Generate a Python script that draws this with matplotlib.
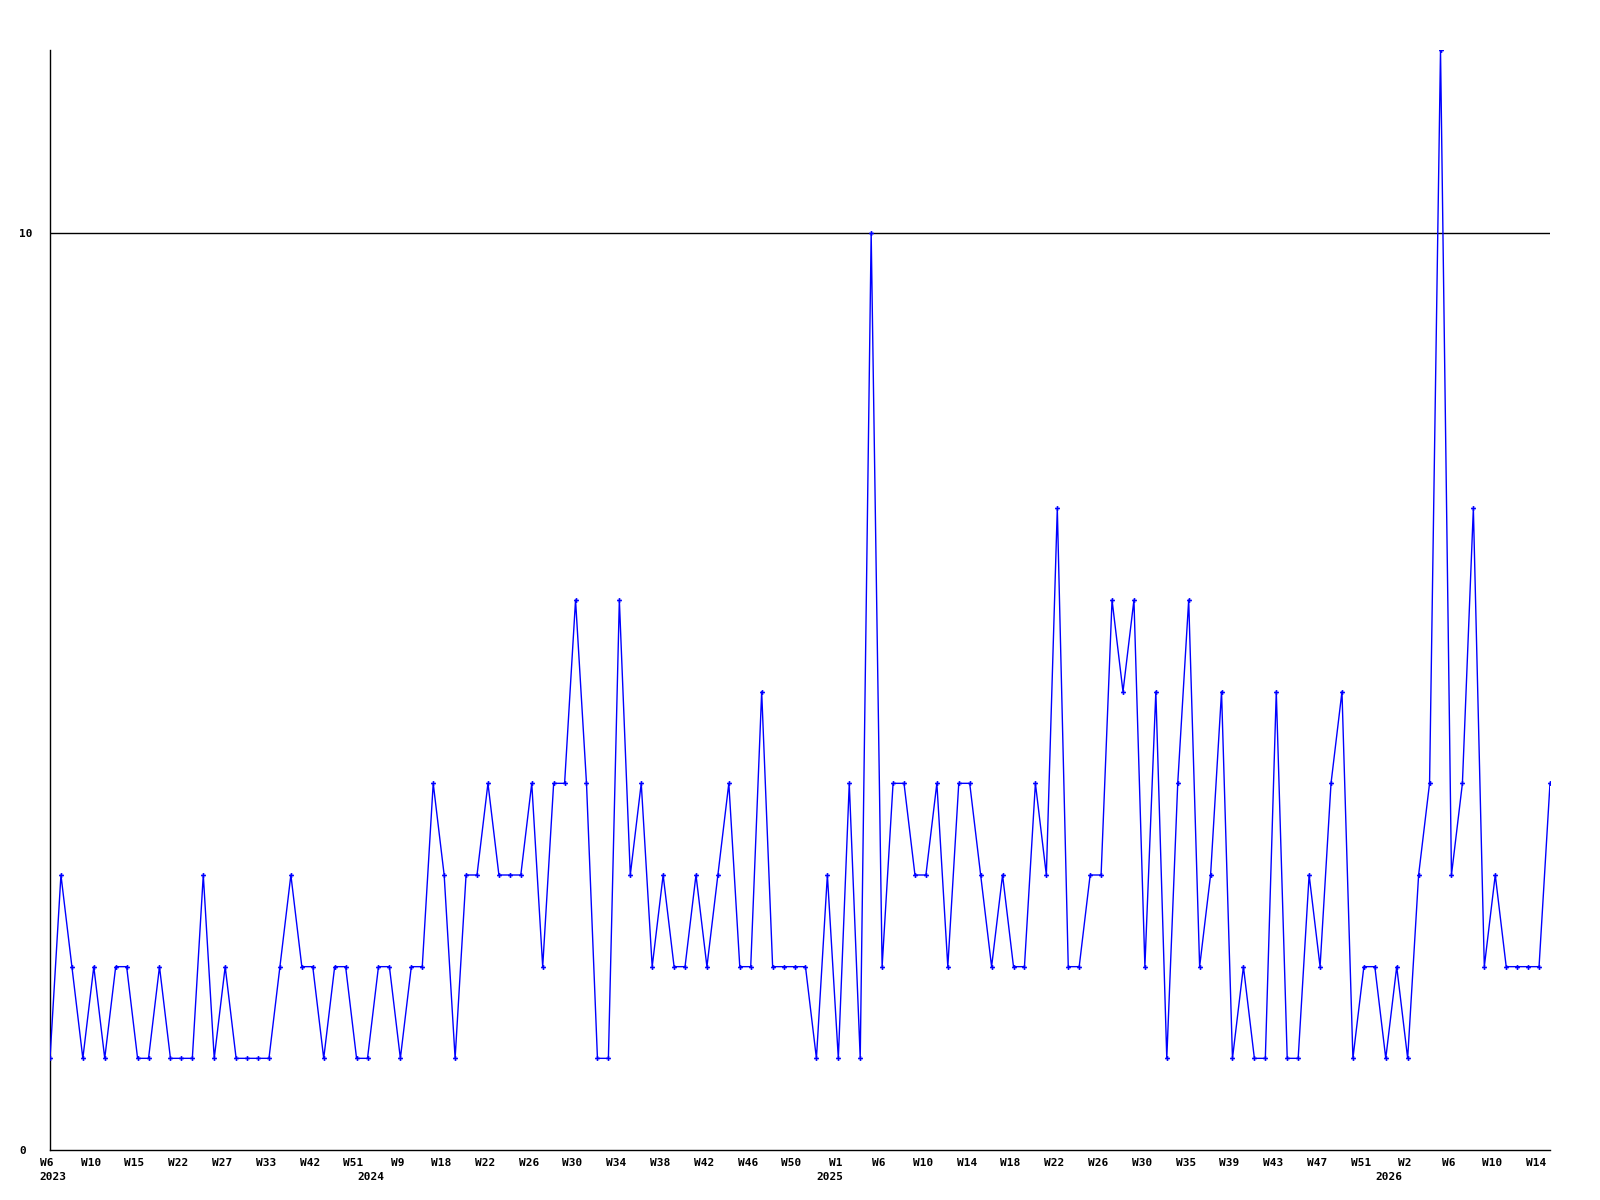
import matplotlib
matplotlib.use("Agg")
import matplotlib.pyplot as plt
import matplotlib.transforms as mtransforms

# valores semanales (una entrada por semana con datos)
valores = [
    1, 3, 2, 1, 2, 1, 2, 2, 1, 1,
    2, 1, 1, 1, 3, 1, 2, 1, 1, 1,
    1, 2, 3, 2, 2, 1, 2, 2, 1, 1,
    2, 2, 1, 2, 2, 4, 3, 1, 3, 3,
    4, 3, 3, 3, 4, 2, 4, 4, 6, 4,
    1, 1, 6, 3, 4, 2, 3, 2, 2, 3,
    2, 3, 4, 2, 2, 5, 2, 2, 2, 2,
    1, 3, 1, 4, 1, 10, 2, 4, 4, 3,
    3, 4, 2, 4, 4, 3, 2, 3, 2, 2,
    4, 3, 7, 2, 2, 3, 3, 6, 5, 6,
    2, 5, 1, 4, 6, 2, 3, 5, 1, 2,
    1, 1, 5, 1, 1, 3, 2, 4, 5, 1,
    2, 2, 1, 2, 1, 3, 4, 12, 3, 4,
    7, 2, 3, 2, 2, 2, 2, 4,
]

etiquetas_semana = [
    "W6", "W10", "W15", "W22", "W27", "W33", "W42", "W51", "W9", "W18",
    "W22", "W26", "W30", "W34", "W38", "W42", "W46", "W50", "W1", "W6",
    "W10", "W14", "W18", "W22", "W26", "W30", "W35", "W39", "W43", "W47",
    "W51", "W2", "W6", "W10", "W14",
]
anios = ["2023", "2024", "2025", "2026"]
pos_anios = [0, 29, 71, 122]

fig = plt.figure(figsize=(16, 12), dpi=100)
ax = fig.add_axes([50 / 1600, 50 / 1200, 1500 / 1600, 1100 / 1200])

x = list(range(len(valores)))
ax.plot(x, valores, color="#0000ff", linewidth=1, marker="P", markersize=3.5,
        markeredgewidth=0, zorder=3)
ax.axhline(10, color="black", linewidth=1, zorder=2)

ax.set_xlim(0, len(valores) - 1)
ax.set_ylim(0, 12)

for s in ["top", "right"]:
    ax.spines[s].set_visible(False)
for s in ["left", "bottom"]:
    ax.spines[s].set_linewidth(1)
    ax.spines[s].set_color("black")

fuente = dict(family="DejaVu Sans Mono", weight="bold", size=8)

ax.set_xticks(range(0, 4 * len(etiquetas_semana), 4))
ax.set_xticklabels(etiquetas_semana, **fuente)
ax.tick_params(axis="x", length=0, pad=6)
# las etiquetas del original quedan un poco a la izquierda del punto
desplaza = mtransforms.ScaledTranslation(-3 / 100, 0, fig.dpi_scale_trans)
for lbl in ax.get_xticklabels():
    lbl.set_transform(lbl.get_transform() + desplaza)

ax.set_yticks([0, 10])
ax.set_yticklabels(["0", "10"], **fuente)
ax.tick_params(axis="y", length=0, pad=22)
for lbl in ax.get_yticklabels():
    lbl.set_horizontalalignment("left")

# los años en cambio van un poco a la derecha
desplaza_anio = mtransforms.ScaledTranslation(3 / 100, 0, fig.dpi_scale_trans)
for a, p in zip(anios, pos_anios):
    ax.text(p, -0.0245, a, transform=ax.get_xaxis_transform() + desplaza_anio,
            ha="center", va="center", **fuente)

fig.savefig("out.png", dpi=100)
